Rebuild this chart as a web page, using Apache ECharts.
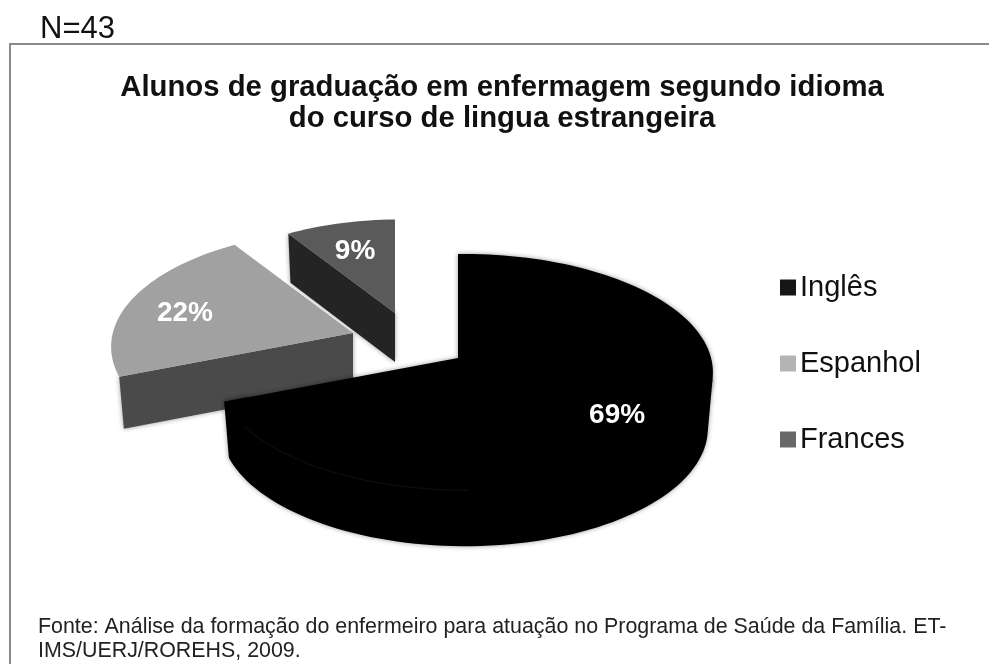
<!DOCTYPE html>
<html>
<head>
<meta charset="utf-8">
<title>Idioma do curso</title>
<script src="https://cdn.jsdelivr.net/npm/echarts@6/dist/echarts.min.js"></script>
<style>
  html, body { margin: 0; padding: 0; background: #fff; }
  #itemChar { width: 989px; height: 664px; }
</style>
</head>
<body>
<div id="itemChar"></div>
<script>
  var idiomas = ['Inglês', 'Espanhol', 'Frances']
  var percentuais = [69, 22, 9]
  var corTopo = ['#000000', '#a1a1a1', '#5a5a5a']
  var corParede = ['#000000', '#4a4a4a', '#242424']
  var corLegenda = ['#161616', '#b4b4b4', '#686868']

  // onde cada fatia fica na tela (apice, escala, altura) - pizza 3D nao existe no echarts
  var fatias = [
    {x: 458, y: 358, escala: 1, altura: 56, rotulo: 0.73, rotuloDy: 6},
    {x: 353, y: 333, escala: 1, altura: 52, rotulo: 0.75, rotuloDy: 6},
    {x: 395, y: 313, escala: 0.9, altura: 49, rotulo: 0.7, rotuloDy: 3}
  ]
  var rx = 246.5, ry = 116.4, persp = 0.119, perspX = 0.026
  var inicioParede = 100

  var total = percentuais.reduce(function (a, b) { return a + b }, 0)

  function inicioDa(i) {
    var soma = 0
    for (var k = 0; k < i; k++) soma += percentuais[k]
    return soma / total * 360
  }

  // angulo em graus, sentido horario a partir do topo
  function ponto(f, ang, r, desce) {
    var rad = ang * Math.PI / 180
    var u = Math.sin(rad) * r
    var w = -Math.cos(rad) * r
    var d = 1 - persp * w - perspX * u
    var encolhe = desce ? 0.98 : 1
    return [
      f.x + f.escala * encolhe * rx * u / d,
      f.y + f.escala * ry * w / d + (desce || 0)
    ]
  }

  function arco(f, a0, a1, desce, r) {
    var pts = []
    var n = Math.ceil(Math.abs(a1 - a0) / 2)
    for (var i = 0; i <= n; i++) {
      pts.push(ponto(f, a0 + (a1 - a0) * i / n, r || 1, desce))
    }
    return pts
  }

  function desenha(i) {
    return function (params, api) {
      var f = fatias[i]
      var a0 = inicioDa(i)
      var a1 = a0 + api.value(0) / total * 360
      var sombra = {shadowBlur: 5, shadowColor: 'rgba(0,0,0,0.4)'}
      var filhos = []

      if (i === 0) {
        // parede externa da frente, entra por baixo do topo para nao deixar emenda
        var frente = [ponto(f, inicioParede, 1)]
          .concat(arco(f, inicioParede, a1, 0, 0.9))
          .concat([ponto(f, a1, 1)])
          .concat(arco(f, a1, inicioParede, f.altura))
        filhos.push({
          type: 'polygon',
          shape: {points: frente},
          style: Object.assign({fill: corParede[i]}, sombra)
        })
      } else {
        // parede do corte
        var borda = ponto(f, a0, 1)
        var bordaBaixo = ponto(f, a0, 1, f.altura)
        filhos.push({
          type: 'polygon',
          shape: {points: [borda, [f.x, f.y], [f.x, f.y + f.altura], bordaBaixo]},
          style: Object.assign({fill: corParede[i]}, sombra)
        })
      }

      filhos.push({
        type: 'polygon',
        shape: {points: [[f.x, f.y]].concat(arco(f, a0, a1))},
        style: Object.assign({fill: corTopo[i]}, i === 0 ? sombra : {})
      })

      if (i === 0) {
        // filete quase invisivel entre topo e parede
        filhos.push({
          type: 'polyline',
          shape: {points: arco(f, 178, 236)},
          style: {fill: null, stroke: '#111111', lineWidth: 1}
        })
      }

      var meio = ponto(f, (a0 + a1) / 2, f.rotulo)
      filhos.push({
        type: 'text',
        x: meio[0],
        y: meio[1] + f.rotuloDy,
        style: {
          text: api.value(0) + '%',
          fill: '#fff',
          font: 'bold 28px "Liberation Sans"',
          align: 'center',
          verticalAlign: 'middle'
        }
      })
      return {type: 'group', children: filhos}
    }
  }

  // ordem de pintura: do fundo para a frente
  var ordem = [2, 1, 0]
  var series = ordem.map(function (i) {
    return {
      name: idiomas[i],
      type: 'custom',
      coordinateSystem: 'none',
      silent: true,
      itemStyle: {color: corLegenda[i]},
      data: [[percentuais[i]]],
      renderItem: desenha(i)
    }
  })

  var option = {
    animation: false,
    backgroundColor: '#fff',
    title: {
      text: 'Alunos de graduação em enfermagem segundo idioma\ndo curso de lingua estrangeira',
      left: 497,
      top: 67,
      textAlign: 'center',
      textStyle: {
        fontFamily: 'Liberation Sans',
        fontSize: 29.3,
        fontWeight: 'bold',
        lineHeight: 31,
        color: '#111'
      }
    },
    legend: {
      data: idiomas,
      orient: 'vertical',
      left: 775,
      top: 268,
      itemWidth: 16,
      itemHeight: 16,
      itemGap: 47,
      icon: 'rect',
      selectedMode: false,
      textStyle: {
        fontFamily: 'Liberation Sans',
        fontSize: 29,
        color: '#111',
        padding: [0, 0, 0, -1]
      }
    },
    graphic: [
      {
        type: 'polyline',
        shape: {points: [[10, 664], [10, 44], [989, 44]]},
        style: {fill: null, stroke: '#8a8a8a', lineWidth: 2}
      },
      {
        type: 'text',
        left: 40,
        top: 14,
        style: {text: 'N=43', fill: '#111', font: '31px "Liberation Sans"'}
      },
      {
        type: 'text',
        left: 38,
        top: 615,
        style: {
          text: 'Fonte: Análise da formação do enfermeiro para atuação no Programa de Saúde da Família. ET-\nIMS/UERJ/ROREHS, 2009.',
          fill: '#222',
          font: '21.4px "Liberation Sans"',
          lineHeight: 24
        }
      }
    ],
    series: series
  }

  var mychar = echarts.init(document.getElementById('itemChar'))
  mychar.setOption(option)
</script>
</body>
</html>
